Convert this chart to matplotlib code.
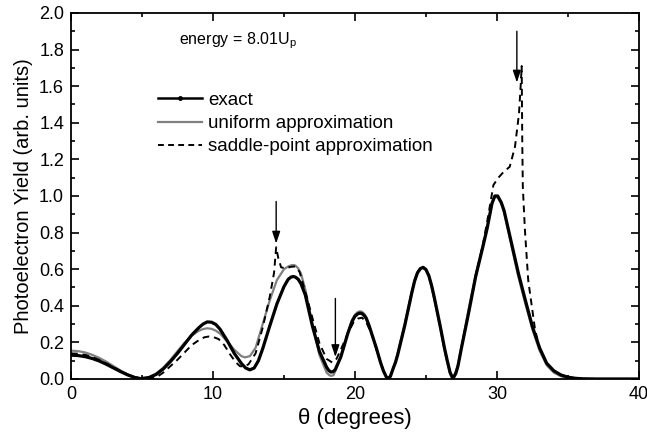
import matplotlib
matplotlib.use("Agg")
from matplotlib import pyplot as plt
from matplotlib.lines import Line2D
from matplotlib.ticker import MultipleLocator, FormatStrFormatter

# exact
theta_exact = [0.0, 0.5, 1.0, 1.5, 2.0, 2.5, 3.0, 3.5, 4.0, 4.5, 4.9, 5.5, 6.0, 6.5, 7.0,
               7.5, 8.0, 8.5, 9.0, 9.3, 9.6, 9.9, 10.2, 10.5, 11.0, 11.5, 12.0, 12.3, 12.6,
               12.9, 13.2, 13.5, 14.0, 14.5, 15.0, 15.3, 15.5, 15.65, 15.8, 16.0, 16.2, 16.5,
               17.0, 17.5, 18.0, 18.15, 18.3, 18.45, 18.6, 19.0, 19.5, 19.8, 20.0, 20.2, 20.35,
               20.5, 20.65, 20.8, 21.0, 21.5, 21.8, 22.0, 22.2, 22.35, 22.5, 22.7, 22.85, 23.0,
               23.5, 24.0, 24.2, 24.4, 24.6, 24.8, 25.0, 25.2, 25.4, 25.6, 26.0, 26.3, 26.5,
               26.7, 26.9, 27.1, 27.25, 27.5, 28.0, 28.5, 29.0, 29.3, 29.5, 29.65, 29.85, 30.05,
               30.3, 30.5, 31.0, 31.5, 32.0, 32.5, 33.0, 33.5, 34.0, 34.5, 35.0, 35.5, 36.0,
               37.0, 40.0]
yield_exact = [0.13, 0.128, 0.122, 0.112, 0.098, 0.08, 0.06, 0.04, 0.022, 0.008, 0.002, 0.008,
               0.025, 0.055, 0.095, 0.14, 0.19, 0.24, 0.28, 0.30, 0.312, 0.31, 0.298, 0.272,
               0.21, 0.14, 0.085, 0.06, 0.05, 0.06, 0.1, 0.165, 0.29, 0.41, 0.505, 0.545, 0.557,
               0.56, 0.557, 0.545, 0.52, 0.46, 0.29, 0.15, 0.065, 0.047, 0.038, 0.04, 0.05, 0.12,
               0.25, 0.315, 0.343, 0.356, 0.36, 0.357, 0.347, 0.33, 0.29, 0.17, 0.09, 0.045, 0.012,
               0.002, 0.015, 0.06, 0.09, 0.13, 0.29, 0.47, 0.535, 0.58, 0.603, 0.61, 0.598, 0.565,
               0.51, 0.44, 0.29, 0.17, 0.1, 0.035, 0.003, 0.03, 0.07, 0.17, 0.36, 0.56, 0.72,
               0.82, 0.9, 0.96, 1.0, 1.0, 0.965, 0.92, 0.75, 0.58, 0.43, 0.285, 0.17, 0.086,
               0.045, 0.022, 0.01, 0.004, 0.001, 0.0, 0.0]

# uniform approximation
theta_uniform = [0.0, 0.5, 1.0, 1.5, 2.0, 2.5, 3.0, 3.5, 4.0, 4.5, 4.8, 5.2, 5.5, 6.0, 6.5,
                 7.0, 7.5, 8.0, 8.5, 9.0, 9.3, 9.6, 9.9, 10.2, 10.5, 11.0, 11.5, 12.0, 12.25,
                 12.6, 13.0, 13.5, 14.0, 14.5, 15.0, 15.3, 15.5, 15.65, 15.8, 16.0, 16.2, 16.5,
                 17.0, 17.5, 18.0, 18.2, 18.35, 18.5, 18.7, 19.0, 19.5, 19.8, 20.0, 20.2, 20.35,
                 20.5, 20.65, 20.8, 21.0, 21.5, 21.8, 22.0, 22.15, 22.3, 22.45, 22.7, 22.85, 23.0,
                 23.5, 24.0, 24.2, 24.4, 24.6, 24.8, 25.0, 25.2, 25.4, 25.6, 26.0, 26.3, 26.5,
                 26.7, 26.85, 27.05, 27.25, 27.5, 28.0, 28.5, 29.0, 29.3, 29.5, 29.65, 29.85,
                 30.05, 30.3, 30.5, 31.0, 31.5, 32.0, 32.5, 33.0, 33.5, 34.0, 34.5, 35.0, 35.5,
                 36.0, 40.0]
yield_uniform = [0.155, 0.152, 0.145, 0.132, 0.115, 0.094, 0.07, 0.046, 0.025, 0.01, 0.004,
                 0.004, 0.01, 0.03, 0.062, 0.104, 0.152, 0.198, 0.237, 0.263, 0.273, 0.277,
                 0.274, 0.264, 0.248, 0.205, 0.16, 0.125, 0.118, 0.125, 0.17, 0.3, 0.43, 0.54,
                 0.6, 0.615, 0.621, 0.623, 0.62, 0.605, 0.575, 0.49, 0.3, 0.13, 0.035, 0.02,
                 0.017, 0.022, 0.06, 0.12, 0.255, 0.325, 0.352, 0.366, 0.37, 0.367, 0.356, 0.338,
                 0.295, 0.17, 0.09, 0.045, 0.018, 0.003, 0.012, 0.06, 0.095, 0.14, 0.3, 0.48,
                 0.54, 0.583, 0.604, 0.608, 0.595, 0.56, 0.5, 0.43, 0.28, 0.16, 0.09, 0.028,
                 0.003, 0.03, 0.075, 0.175, 0.38, 0.57, 0.73, 0.83, 0.905, 0.96, 0.995, 0.993,
                 0.958, 0.91, 0.735, 0.56, 0.41, 0.27, 0.155, 0.075, 0.035, 0.015, 0.006, 0.002,
                 0.0, 0.0]

# saddle-point approximation
theta_saddle = [0.0, 0.5, 1.0, 1.5, 2.0, 2.5, 3.0, 3.5, 4.0, 4.5, 5.0, 5.5, 6.0, 6.5, 7.0,
                7.5, 8.0, 8.5, 9.0, 9.4, 9.7, 10.0, 10.4, 10.8, 11.2, 11.6, 11.9, 12.2, 12.5,
                13.0, 13.5, 14.0, 14.3, 14.45, 14.6, 14.8, 15.1, 15.5, 15.8, 16.1, 16.6, 17.05,
                17.5, 18.0, 18.4, 18.7, 19.0, 19.5, 19.9, 20.2, 20.5, 20.8, 21.2, 21.6, 22.0,
                22.2, 22.35, 22.5, 22.7, 22.85, 23.0, 23.5, 24.0, 24.2, 24.4, 24.6, 24.8, 25.0,
                25.2, 25.4, 25.6, 26.0, 26.3, 26.5, 26.7, 26.9, 27.1, 27.25, 27.5, 28.0, 28.5,
                29.0, 29.4, 29.75, 30.1, 30.45, 30.9, 31.27, 31.55, 31.69, 31.74, 31.78, 31.82,
                31.97, 32.2, 32.68, 33.0, 33.5, 34.0, 34.5, 35.0, 35.5, 36.0, 37.0, 40.0]
yield_saddle = [0.14, 0.138, 0.132, 0.12, 0.104, 0.085, 0.064, 0.043, 0.024, 0.01, 0.003,
                0.002, 0.008, 0.035, 0.07, 0.105, 0.145, 0.185, 0.212, 0.228, 0.232, 0.23,
                0.218, 0.185, 0.135, 0.092, 0.07, 0.068, 0.08, 0.14, 0.28, 0.45, 0.58, 0.72,
                0.66, 0.61, 0.605, 0.613, 0.615, 0.585, 0.45, 0.32, 0.195, 0.11, 0.09, 0.11,
                0.16, 0.25, 0.31, 0.33, 0.335, 0.31, 0.24, 0.14, 0.045, 0.012, 0.002, 0.015,
                0.06, 0.09, 0.13, 0.29, 0.47, 0.535, 0.58, 0.603, 0.61, 0.598, 0.565, 0.51, 0.44,
                0.29, 0.17, 0.1, 0.035, 0.003, 0.03, 0.07, 0.17, 0.36, 0.56, 0.73, 0.9, 1.06,
                1.1, 1.13, 1.16, 1.27, 1.45, 1.63, 1.71, 1.3, 1.05, 0.81, 0.54, 0.27, 0.17,
                0.086, 0.045, 0.022, 0.01, 0.004, 0.001, 0.0, 0.0]

# arrows marking the saddle-point divergences: (theta, y_start, y_tip)
arrows = [(14.45, 0.97, 0.74), (18.62, 0.44, 0.12), (31.4, 1.90, 1.62)]

plt.rcParams["font.family"] = ["Liberation Sans", "DejaVu Sans"]
plt.rcParams["mathtext.fontset"] = "custom"
plt.rcParams["mathtext.rm"] = "Liberation Sans"

fig = plt.figure(figsize=(6.47, 4.43), dpi=100)
ax = fig.add_axes([0.1097, 0.1445, 0.8779, 0.8262])

ax.plot(theta_uniform, yield_uniform, color="#808080", lw=1.6, zorder=2)
ax.plot(theta_saddle, yield_saddle, color="black", lw=1.4, ls=(0, (3.5, 2.5)), zorder=3)
ax.plot(theta_exact, yield_exact, color="black", lw=2.3, zorder=4)

for x, y0, y1 in arrows:
    ax.annotate("", xy=(x, y1), xytext=(x, y0),
                arrowprops=dict(arrowstyle="-|>,head_length=0.6,head_width=0.2",
                                color="black", lw=1.0, mutation_scale=12,
                                shrinkA=0, shrinkB=0))

ax.text(7.6, 1.85, "energy = 8.01U$_{\\mathregular{p}}$", fontsize=11.5, va="center")

handles = [
    Line2D([], [], color="black", lw=1.8, marker="o", markersize=2.5),
    Line2D([], [], color="#808080", lw=1.6),
    Line2D([], [], color="black", lw=1.4, ls=(0, (3, 2.2))),
]
labels = ["exact", "uniform approximation", "saddle-point approximation"]
ax.legend(handles, labels, loc="upper left", bbox_to_anchor=(0.140, 0.805),
          frameon=False, fontsize=13.5, numpoints=1, handlelength=2.35,
          handletextpad=0.32, labelspacing=0.32, borderaxespad=0)

ax.set_xlim(0, 40)
ax.set_ylim(0, 2.0)
ax.xaxis.set_major_locator(MultipleLocator(10))
ax.xaxis.set_minor_locator(MultipleLocator(5))
ax.yaxis.set_major_locator(MultipleLocator(0.2))
ax.yaxis.set_minor_locator(MultipleLocator(0.1))
ax.yaxis.set_major_formatter(FormatStrFormatter("%.1f"))
ax.tick_params(which="both", direction="in", top=True, right=True, labelsize=13, width=1.2)
ax.tick_params(which="major", length=5.5, pad=5)
ax.tick_params(which="minor", length=3)
for s in ax.spines.values():
    s.set_linewidth(1.3)

ax.set_xlabel("θ (degrees)", fontsize=16, labelpad=4)
ax.set_ylabel("Photoelectron Yield (arb. units)", fontsize=14.5, labelpad=4)

fig.savefig("out.png", dpi=100)
